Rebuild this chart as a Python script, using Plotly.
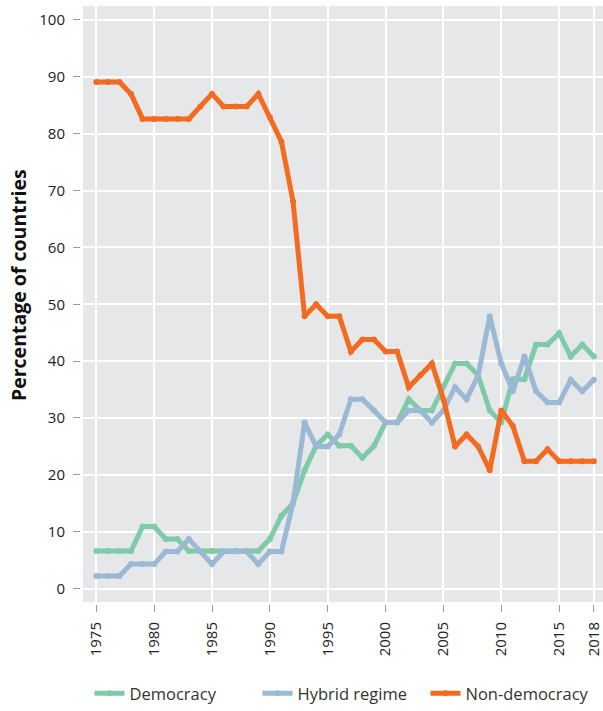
import plotly.graph_objects as go

years = list(range(1975, 2019))

democracy = [6.6, 6.6, 6.6, 6.6, 10.9, 10.9, 8.7, 8.7, 6.6, 6.6,
             6.6, 6.6, 6.6, 6.6, 6.6, 8.7, 12.8, 15.0, 20.8, 25.1,
             27.1, 25.1, 25.1, 23.0, 25.1, 29.2, 29.2, 33.3, 31.3, 31.3,
             35.6, 39.6, 39.6, 37.5, 31.3, 29.2, 36.8, 36.8, 42.9, 42.9,
             44.9, 40.8, 42.9, 40.8]

hybrid = [2.2, 2.2, 2.2, 4.3, 4.3, 4.3, 6.5, 6.5, 8.7, 6.5,
          4.3, 6.5, 6.5, 6.5, 4.3, 6.5, 6.5, 15.0, 29.2, 25.0,
          25.0, 27.1, 33.3, 33.3, 31.3, 29.2, 29.2, 31.3, 31.3, 29.2,
          31.3, 35.4, 33.3, 37.5, 47.9, 39.6, 34.7, 40.8, 34.7, 32.7,
          32.7, 36.7, 34.7, 36.7]

non_democracy = [89.1, 89.1, 89.1, 87.0, 82.6, 82.6, 82.6, 82.6, 82.6, 84.8,
                 87.0, 84.8, 84.8, 84.8, 87.0, 82.9, 78.6, 68.1, 47.9, 50.0,
                 47.9, 47.9, 41.7, 43.8, 43.8, 41.7, 41.7, 35.4, 37.5, 39.6,
                 33.3, 25.0, 27.1, 25.0, 20.8, 31.3, 28.6, 22.4, 22.4, 24.5,
                 22.4, 22.4, 22.4, 22.4]

series_names = ["Democracy", "Hybrid regime", "Non-democracy"]
series_values = [democracy, hybrid, non_democracy]
series_colors = ["#7ecaa9", "#9bb8d4", "#f36b21"]

x_tickvals = [1975, 1980, 1985, 1990, 1995, 2000, 2005, 2010, 2015, 2018]
y_tickvals = list(range(0, 101, 10))
y_title = "Percentage of countries"

fig = go.Figure()
for name, vals, col in zip(series_names, series_values, series_colors):
    fig.add_trace(go.Scatter(
        x=years, y=vals, name=name, mode="lines+markers",
        line=dict(color=col, width=5),
        marker=dict(color=col, size=6),
    ))

W, H = 603, 711
ml, mr, mt, mb = 80, 0, 6, 106
pw = W - ml - mr
ph = H - mt - mb

font_family = "Open Sans"

fig.update_layout(
    width=W, height=H,
    margin=dict(l=ml, r=mr, t=mt, b=mb),
    paper_bgcolor="white",
    plot_bgcolor="#e6e7e9",
    font=dict(family=font_family, color="#222222", size=15),
    showlegend=True,
    legend=dict(
        orientation="h", x=0.5, xanchor="center", y=(605 - 695) / ph,
        yanchor="middle", font=dict(size=16.5, color="#333333"),
        itemwidth=30, entrywidth=123, traceorder="normal",
        bgcolor="rgba(0,0,0,0)",
    ),
    xaxis=dict(
        domain=[3 / pw, 1],
        anchor="free", position=0,
        range=[1973.85, 2018.79],
        tickmode="array", tickvals=x_tickvals,
        ticktext=[str(v) for v in x_tickvals],
        tickangle=-90,
        ticks="outside", ticklen=7, tickcolor="#9a9a9a", tickwidth=1,
        ticklabelstandoff=4,
        showgrid=True, gridcolor="white", gridwidth=1.5,
        zeroline=False, showline=False,
        tickfont=dict(size=15, color="#222222"),
    ),
    yaxis=dict(
        domain=[2 / ph, 1],
        anchor="free", position=0,
        range=[-2.37, 102.46],
        tickmode="array", tickvals=y_tickvals,
        ticks="outside", ticklen=7, tickcolor="#9a9a9a", tickwidth=1,
        ticklabelstandoff=5,
        showgrid=True, gridcolor="white", gridwidth=1.5,
        zeroline=False, showline=False,
        tickfont=dict(size=15, color="#222222"),
        automargin=False,
    ),
    annotations=[dict(
        text="<b>" + y_title + "</b>",
        xref="paper", yref="paper", x=0, y=(605 - 285.5) / ph,
        xanchor="center", yanchor="middle", xshift=-62,
        textangle=-90, showarrow=False,
        font=dict(size=19.5, color="#111111", family=font_family),
    )],
)

fig.write_html(
    "out.html",
    config={"displayModeBar": False},
    post_script="document.body.style.margin='0';"
                "document.documentElement.style.overflow='hidden';",
)
